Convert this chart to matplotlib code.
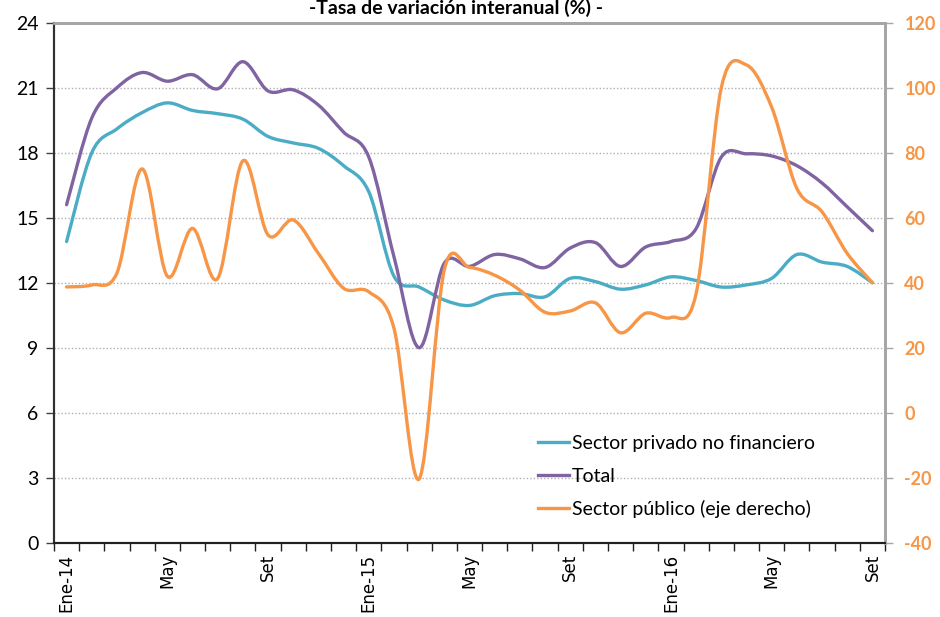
import numpy as np
import matplotlib
matplotlib.use("Agg")
import matplotlib.pyplot as plt
from matplotlib.path import Path
from matplotlib.patches import PathPatch
from matplotlib.lines import Line2D

plt.rcParams['font.family'] = ['Lato', 'DejaVu Sans']

# meses Ene-14 .. Set-16
meses = ["Ene-14", "Feb", "Mar", "Abr", "May", "Jun", "Jul", "Ago", "Set", "Oct", "Nov", "Dic",
         "Ene-15", "Feb", "Mar", "Abr", "May", "Jun", "Jul", "Ago", "Set", "Oct", "Nov", "Dic",
         "Ene-16", "Feb", "Mar", "Abr", "May", "Jun", "Jul", "Ago", "Set"]
etiquetas = {0: "Ene-14", 4: "May", 8: "Set", 12: "Ene-15", 16: "May", 20: "Set",
             24: "Ene-16", 28: "May", 32: "Set"}

privado = [13.9, 18.0, 19.1, 19.85, 20.3, 19.95, 19.8, 19.55, 18.75, 18.45, 18.2, 17.4,
           16.2, 12.3, 11.8, 11.2, 10.95, 11.4, 11.5, 11.35, 12.2, 12.05, 11.7, 11.9,
           12.27, 12.1, 11.8, 11.9, 12.2, 13.3, 12.95, 12.75, 12.0]
total = [15.6, 19.6, 21.0, 21.7, 21.3, 21.6, 20.95, 22.2, 20.85, 20.9, 20.2, 18.95,
         17.8, 13.2, 9.0, 12.9, 12.75, 13.3, 13.1, 12.7, 13.6, 13.85, 12.75, 13.65,
         13.9, 14.5, 17.8, 17.95, 17.85, 17.4, 16.6, 15.5, 14.4]
publico = [38.7, 39.3, 43.0, 75.0, 42.0, 56.7, 41.3, 77.5, 54.7, 59.3, 49.0, 38.3,
           37.2, 26.0, -20.4, 44.0, 44.7, 42.3, 37.7, 30.9, 31.3, 33.8, 24.6, 30.6,
           29.3, 36.7, 100.0, 107.0, 94.0, 69.0, 61.8, 49.0, 40.0]

c_priv = "#4BACC6"
c_tot = "#8064A2"
c_pub = "#F79646"


def suave(xs, ys):
    # curva tipo Excel (Bezier entre los puntos)
    xs = np.asarray(xs, float)
    ys = np.asarray(ys, float)
    n = len(xs)
    verts = [(xs[0], ys[0])]
    codes = [Path.MOVETO]
    for i in range(n - 1):
        p0 = np.array([xs[max(i - 1, 0)], ys[max(i - 1, 0)]])
        p1 = np.array([xs[i], ys[i]])
        p2 = np.array([xs[i + 1], ys[i + 1]])
        p3 = np.array([xs[min(i + 2, n - 1)], ys[min(i + 2, n - 1)]])
        c1 = p1 + (p2 - p0) / 6
        c2 = p2 - (p3 - p1) / 6
        verts += [tuple(c1), tuple(c2), tuple(p2)]
        codes += [Path.CURVE4] * 3
    return Path(verts, codes)


x = np.arange(len(meses))

fig = plt.figure(figsize=(9.4, 6.17), dpi=100)
ax = fig.add_axes([54 / 940, 1 - 542.7 / 617, (885 - 54) / 940, 520 / 617])
ax2 = ax.twinx()

ax.set_xlim(-0.5, len(meses) - 0.5)
ax.set_ylim(0, 24)
ax2.set_ylim(-40, 120)

for v in range(3, 24, 3):
    ax.axhline(v, color="#B0B0B0", linestyle=(0, (1, 1.5)), linewidth=1, zorder=0)

lw = 2.4
ax.add_patch(PathPatch(suave(x, privado), fill=False, edgecolor=c_priv, lw=lw, capstyle="round"))
ax.add_patch(PathPatch(suave(x, total), fill=False, edgecolor=c_tot, lw=lw, capstyle="round"))
ax2.add_patch(PathPatch(suave(x, publico), fill=False, edgecolor=c_pub, lw=lw, capstyle="round"))

yt = list(range(0, 25, 3))
ax.set_yticks(yt)
ax.set_yticklabels([str(v) for v in yt], fontsize=14)
ax.tick_params(axis="y", length=6, width=1, color="#404040", pad=5)
yt2 = list(range(-40, 121, 20))
ax2.set_yticks(yt2)
ax2.set_yticklabels([str(v) for v in yt2], fontsize=13, fontweight="bold", color=c_pub)
ax2.tick_params(axis="y", length=6, width=1, color="#A6A6A6", pad=8)

ax.set_xticks(list(etiquetas.keys()))
ax.set_xticklabels(list(etiquetas.values()), rotation=90, fontsize=12,
                   family="DejaVu Sans", va="top", ha="center")
ax.set_xticks(np.arange(-0.5, len(meses), 1), minor=True)
ax.tick_params(axis="x", which="major", length=0, pad=8)
ax.tick_params(axis="x", which="minor", length=6, width=1, color="#202020")

for a in (ax, ax2):
    a.spines["top"].set_color("#A6A6A6")
    a.spines["top"].set_linewidth(2)
    a.spines["right"].set_color("#A6A6A6")
    a.spines["right"].set_linewidth(2)
    a.spines["left"].set_color("#303030")
    a.spines["left"].set_linewidth(1.5)
    a.spines["bottom"].set_color("#202020")
    a.spines["bottom"].set_linewidth(1.5)

fig.text(456 / 940, 1 - 14 / 617, "-Tasa de variación interanual (%) -",
         ha="center", va="baseline", fontsize=14, fontweight="bold")

handles = [Line2D([], [], color=c_priv, lw=lw),
           Line2D([], [], color=c_tot, lw=lw),
           Line2D([], [], color=c_pub, lw=lw)]
nombres = ["Sector privado no financiero", "Total", "Sector público (eje derecho)"]
fig.legend(handles, nombres, loc="upper left", bbox_to_anchor=(538 / 940, 1 - 435 / 617),
           frameon=False, fontsize=14, handlelength=1.6, handletextpad=0.15,
           labelspacing=0.8, borderpad=0, borderaxespad=0)

fig.savefig("out.png", dpi=100)
